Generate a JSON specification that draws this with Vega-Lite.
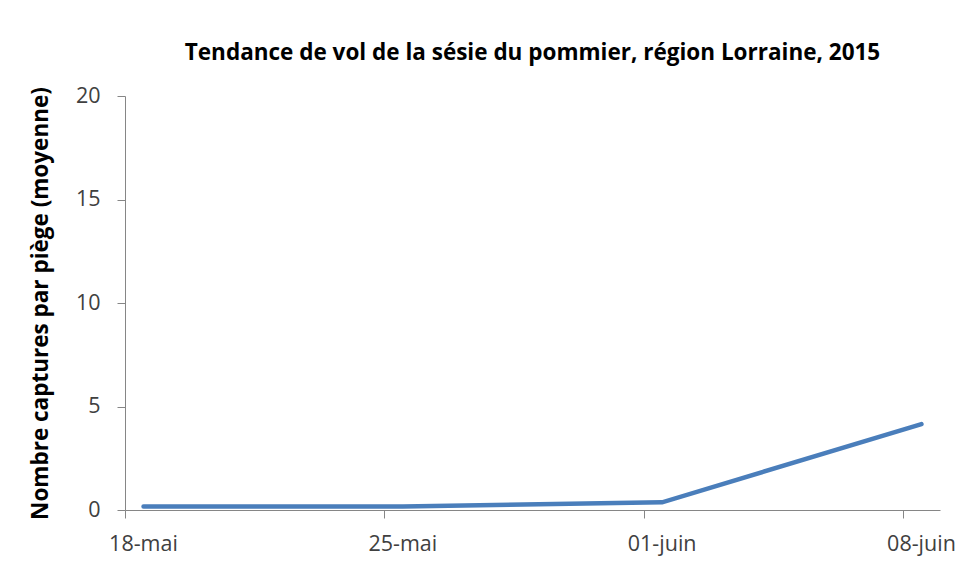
{
  "$schema": "https://vega.github.io/schema/vega-lite/v6.json",
  "autosize": "none",
  "width": 815,
  "height": 414,
  "padding": {"left": 125, "top": 96, "right": 18, "bottom": 71},
  "background": "white",
  "title": {
    "text": "Tendance de vol de la sésie du pommier, région Lorraine, 2015",
    "font": "Open Sans",
    "fontSize": 22.5,
    "fontWeight": "bold",
    "color": "#000000",
    "anchor": "middle",
    "offset": 21
  },
  "config": {
    "view": {"stroke": null},
    "axis": {
      "grid": false,
      "domainColor": "#868686",
      "tickColor": "#868686",
      "tickSize": 8,
      "labelFont": "Open Sans",
      "labelFontSize": 21.5,
      "labelColor": "#404040",
      "titleFont": "Open Sans",
      "titleFontSize": 22.5,
      "titleFontWeight": "bold",
      "titleColor": "#000000"
    }
  },
  "data": {
    "values": [
      {"date": "2015/05/18", "captures": 0.17},
      {"date": "2015/05/25", "captures": 0.17},
      {"date": "2015/06/01", "captures": 0.37},
      {"date": "2015/06/08", "captures": 4.15}
    ]
  },
  "mark": {"type": "line", "color": "#4A7EBB", "strokeWidth": 4.5, "strokeCap": "round"},
  "encoding": {
    "x": {
      "field": "date",
      "type": "temporal",
      "timeUnit": "yearmonthdate",
      "bandPosition": 0.5,
      "scale": {"domain": [{"year": 2015, "month": 5, "date": 18}, {"year": 2015, "month": 6, "date": 9}], "nice": false},
      "axis": {
        "title": null,
        "values": [
          {"year": 2015, "month": 5, "date": 18},
          {"year": 2015, "month": 5, "date": 25},
          {"year": 2015, "month": 6, "date": 1},
          {"year": 2015, "month": 6, "date": 8}
        ],
        "labelExpr": "replace(replace(timeFormat(datum.value, '%d-%b'), 'May', 'mai'), 'Jun', 'juin')",
        "labelOffset": 18,
        "labelPadding": 15,
        "labelFlush": false,
        "labelOverlap": false
      }
    },
    "y": {
      "field": "captures",
      "type": "quantitative",
      "scale": {"domain": [0, 20], "nice": false},
      "axis": {
        "title": "Nombre captures par piège (moyenne)",
        "values": [0, 5, 10, 15, 20],
        "labelPadding": 17,
        "titlePadding": 23
      }
    }
  }
}
